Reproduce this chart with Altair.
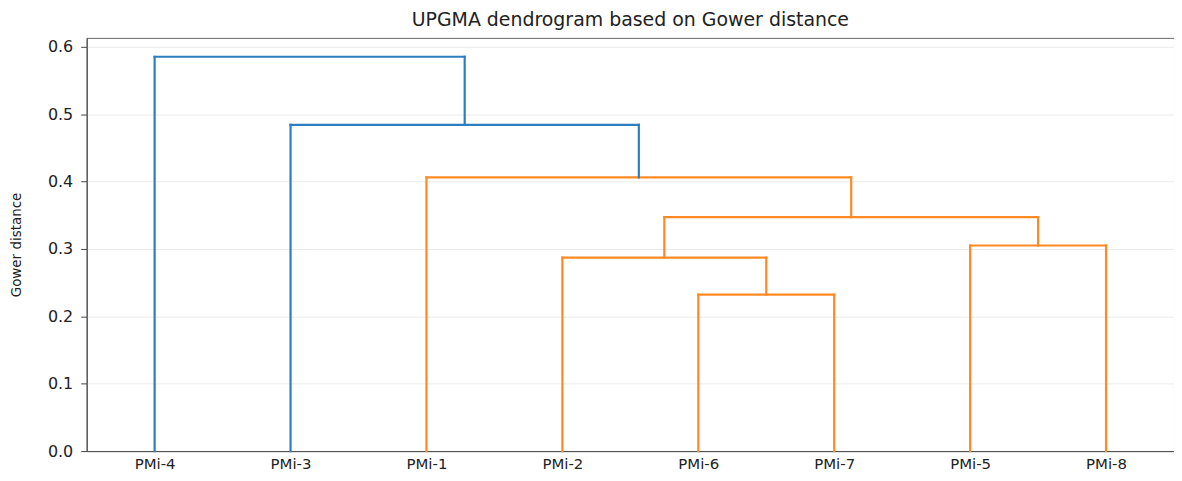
import json
import altair as alt
import pandas as pd

# leaf order along the x axis
leaves = ["PMi-4", "PMi-3", "PMi-1", "PMi-2", "PMi-6", "PMi-7", "PMi-5", "PMi-8"]

# UPGMA merges (C1 = first merge, C2 = second, ...)
merge_left = ["PMi-6", "PMi-2", "PMi-5", "C2", "PMi-1", "PMi-3", "PMi-4"]
merge_right = ["PMi-7", "C1", "PMi-8", "C3", "C4", "C5", "C6"]
merge_height = [0.232, 0.287, 0.305, 0.347, 0.406, 0.484, 0.585]
merge_group = ["orange", "orange", "orange", "orange", "orange", "blue", "blue"]

colour_domain = ["blue", "orange"]
colour_range = ["#2b7fc0", "#ff8a24"]

# node positions (scipy style: leaves at 5, 15, 25, ...)
pos = {name: 5 + 10 * i for i, name in enumerate(leaves)}
hgt = {name: 0.0 for name in leaves}
rows = []
for k, (l, r, h, g) in enumerate(zip(merge_left, merge_right, merge_height, merge_group), start=1):
    xl, xr = pos[l], pos[r]
    rows.append(dict(x=xl, x2=xl, y=hgt[l], y2=h, g=g))
    rows.append(dict(x=xl, x2=xr, y=h, y2=h, g=g))
    rows.append(dict(x=xr, x2=xr, y=hgt[r], y2=h, g=g))
    pos[f"C{k}"] = (xl + xr) / 2
    hgt[f"C{k}"] = h

df = pd.DataFrame(rows)

label_expr = json.dumps(leaves) + "[round((datum.value - 5) / 10)]"

chart = (
    alt.Chart(df)
    .mark_rule(strokeWidth=2.2, strokeCap="square")
    .encode(
        x=alt.X(
            "x:Q",
            scale=alt.Scale(domain=[0, 80], nice=False, zero=False),
            axis=alt.Axis(
                values=[5 + 10 * i for i in range(len(leaves))],
                labelExpr=label_expr,
                title=None,
                grid=False,
                ticks=False,
                labelPadding=5,
                labelFontSize=15,
                labelFont="DejaVu Sans",
                labelColor="#222",
                domainColor="#444",
            ),
        ),
        x2="x2:Q",
        y=alt.Y(
            "y:Q",
            scale=alt.Scale(domain=[0, 0.613], nice=False),
            axis=alt.Axis(
                values=[0, 0.1, 0.2, 0.3, 0.4, 0.5, 0.6],
                format=".1f",
                title="Gower distance",
                titleFont="Liberation Sans Narrow, DejaVu Sans Condensed, Roboto Condensed, Roboto",
                titleFontSize=15,
                titleFontWeight="normal",
                titleColor="#222",
                titlePadding=24,
                labelFontSize=16,
                labelFont="DejaVu Sans",
                labelColor="#222",
                labelPadding=8,
                tickSize=6,
                tickColor="#444",
                domainColor="#444",
                gridColor="#ebebeb",
            ),
        ),
        y2="y2:Q",
        color=alt.Color(
            "g:N",
            scale=alt.Scale(domain=colour_domain, range=colour_range),
            legend=None,
        ),
    )
    .properties(
        width=1092,
        height=415,
        padding={"left": 0, "top": 2, "right": 0, "bottom": 0},
        title=alt.TitleParams(
            "UPGMA dendrogram based on Gower distance",
            font="DejaVu Sans",
            fontSize=19,
            fontWeight="normal",
            color="#222",
            offset=8,
        ),
    )
    .configure_view(stroke="#666", strokeWidth=1)
)

chart.save("out.html", embed_options={"renderer": "svg", "actions": False})
